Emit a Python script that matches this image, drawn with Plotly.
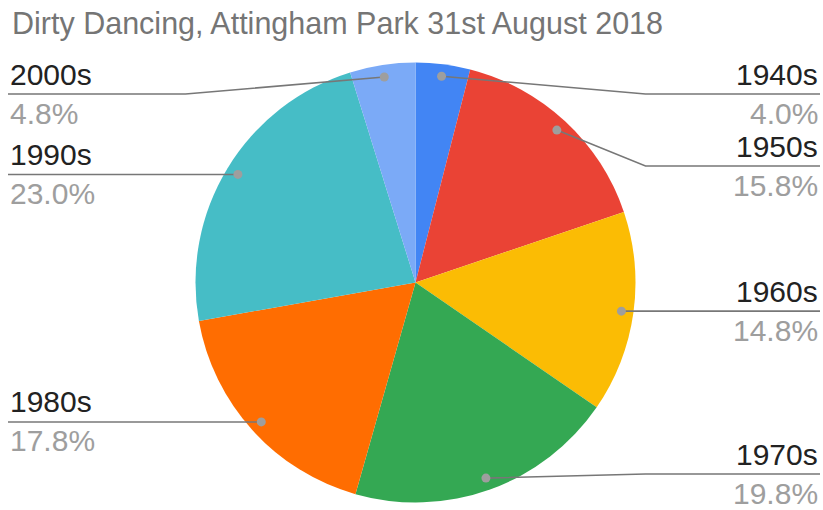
import math
import plotly.graph_objects as go

# Audience share by decade
decades = ["1940s", "1950s", "1960s", "1970s", "1980s", "1990s", "2000s"]
shares = [4.0, 15.8, 14.8, 19.8, 17.8, 23.0, 4.8]
colors = ["#4285F4", "#EA4335", "#FBBC04", "#34A853", "#FF6D01", "#46BDC6", "#7BAAF7"]
title_text = "Dirty Dancing, Attingham Park 31st August 2018"

W, H = 823, 510
CX, CY, R = 415.5, 282.5, 220.0      # pie centre and radius in px
DOT_R = 0.945 * R                    # where leader lines start
ELBOW = 230.0                        # horizontal distance of the elbow from centre
LEFT_X, RIGHT_X = 8.0, 820.0         # label column edges
Y_MIN, Y_MAX, GAP = 94.0, 474.0, 72.0
FONT = "Arial, Liberation Sans, sans-serif"
FS = 30

fig = go.Figure()
fig.add_trace(go.Pie(
    labels=decades, values=shares, sort=False, direction="clockwise", rotation=0,
    marker=dict(colors=colors, line=dict(width=0)),
    textinfo="none", hoverinfo="skip", showlegend=False,
    domain=dict(x=[(CX - R) / W, (CX + R) / W], y=[1 - (CY + R) / H, 1 - (CY - R) / H]),
))

# dot positions at the middle angle of each slice
total = sum(shares)
items = []
acc = 0.0
for name, v in zip(decades, shares):
    mid = (acc + v / 2) / total * 2 * math.pi
    acc += v
    dx, dy = CX + DOT_R * math.sin(mid), CY - DOT_R * math.cos(mid)
    items.append(dict(name=name, v=v, dx=dx, dy=dy, side=1 if math.sin(mid) > 0 else -1))

# stack labels on each side so they do not overlap
for side in (1, -1):
    group = sorted([it for it in items if it["side"] == side], key=lambda it: it["dy"])
    for it in group:
        it["ly"] = min(max(it["dy"], Y_MIN), Y_MAX)
    for a, b in zip(group, group[1:]):
        b["ly"] = max(b["ly"], a["ly"] + GAP)
    for a, b in reversed(list(zip(group, group[1:]))):
        a["ly"] = min(a["ly"], b["ly"] - GAP)

annotations = [dict(
    x=10, y=23, xref="x", yref="y", text=title_text, showarrow=False,
    xanchor="left", yanchor="middle", font=dict(family=FONT, size=30.5, color="#757575"),
)]
shapes = []
DOT = 4.5
for it in items:
    side = it["side"]
    ex = CX + side * ELBOW
    end = RIGHT_X if side > 0 else LEFT_X
    if abs(it["ly"] - it["dy"]) > 0.5:
        path = f"M{it['dx']},{it['dy']} L{ex},{it['ly']} L{end},{it['ly']}"
    else:
        path = f"M{it['dx']},{it['dy']} L{end},{it['ly']}"
    # leader line and dot sit above the pie layer
    shapes.append(dict(type="path", path=path, xref="x", yref="y", layer="above",
                       line=dict(color="#777777", width=1.6)))
    shapes.append(dict(type="circle", xref="x", yref="y", layer="above",
                       x0=it["dx"] - DOT, x1=it["dx"] + DOT, y0=it["dy"] - DOT, y1=it["dy"] + DOT,
                       fillcolor="#9E9E9E", line=dict(width=0)))
    anchor = "right" if side > 0 else "left"
    annotations.append(dict(
        x=end, y=it["ly"] - 20, xref="x", yref="y", text=it["name"], showarrow=False,
        xanchor=anchor, yanchor="middle", font=dict(family=FONT, size=FS, color="#222222"),
    ))
    annotations.append(dict(
        x=end, y=it["ly"] + 19, xref="x", yref="y", text=f"{it['v']:.1f}%", showarrow=False,
        xanchor=anchor, yanchor="middle", font=dict(family=FONT, size=FS, color="#9E9E9E"),
    ))

fig.update_layout(
    width=W, height=H, margin=dict(l=0, r=0, t=0, b=0),
    paper_bgcolor="white", plot_bgcolor="rgba(0,0,0,0)",
    xaxis=dict(range=[0, W], visible=False, fixedrange=True),
    yaxis=dict(range=[H, 0], visible=False, fixedrange=True),
    annotations=annotations, shapes=shapes,
)

fig.write_html("out.html", config={"displayModeBar": False})
